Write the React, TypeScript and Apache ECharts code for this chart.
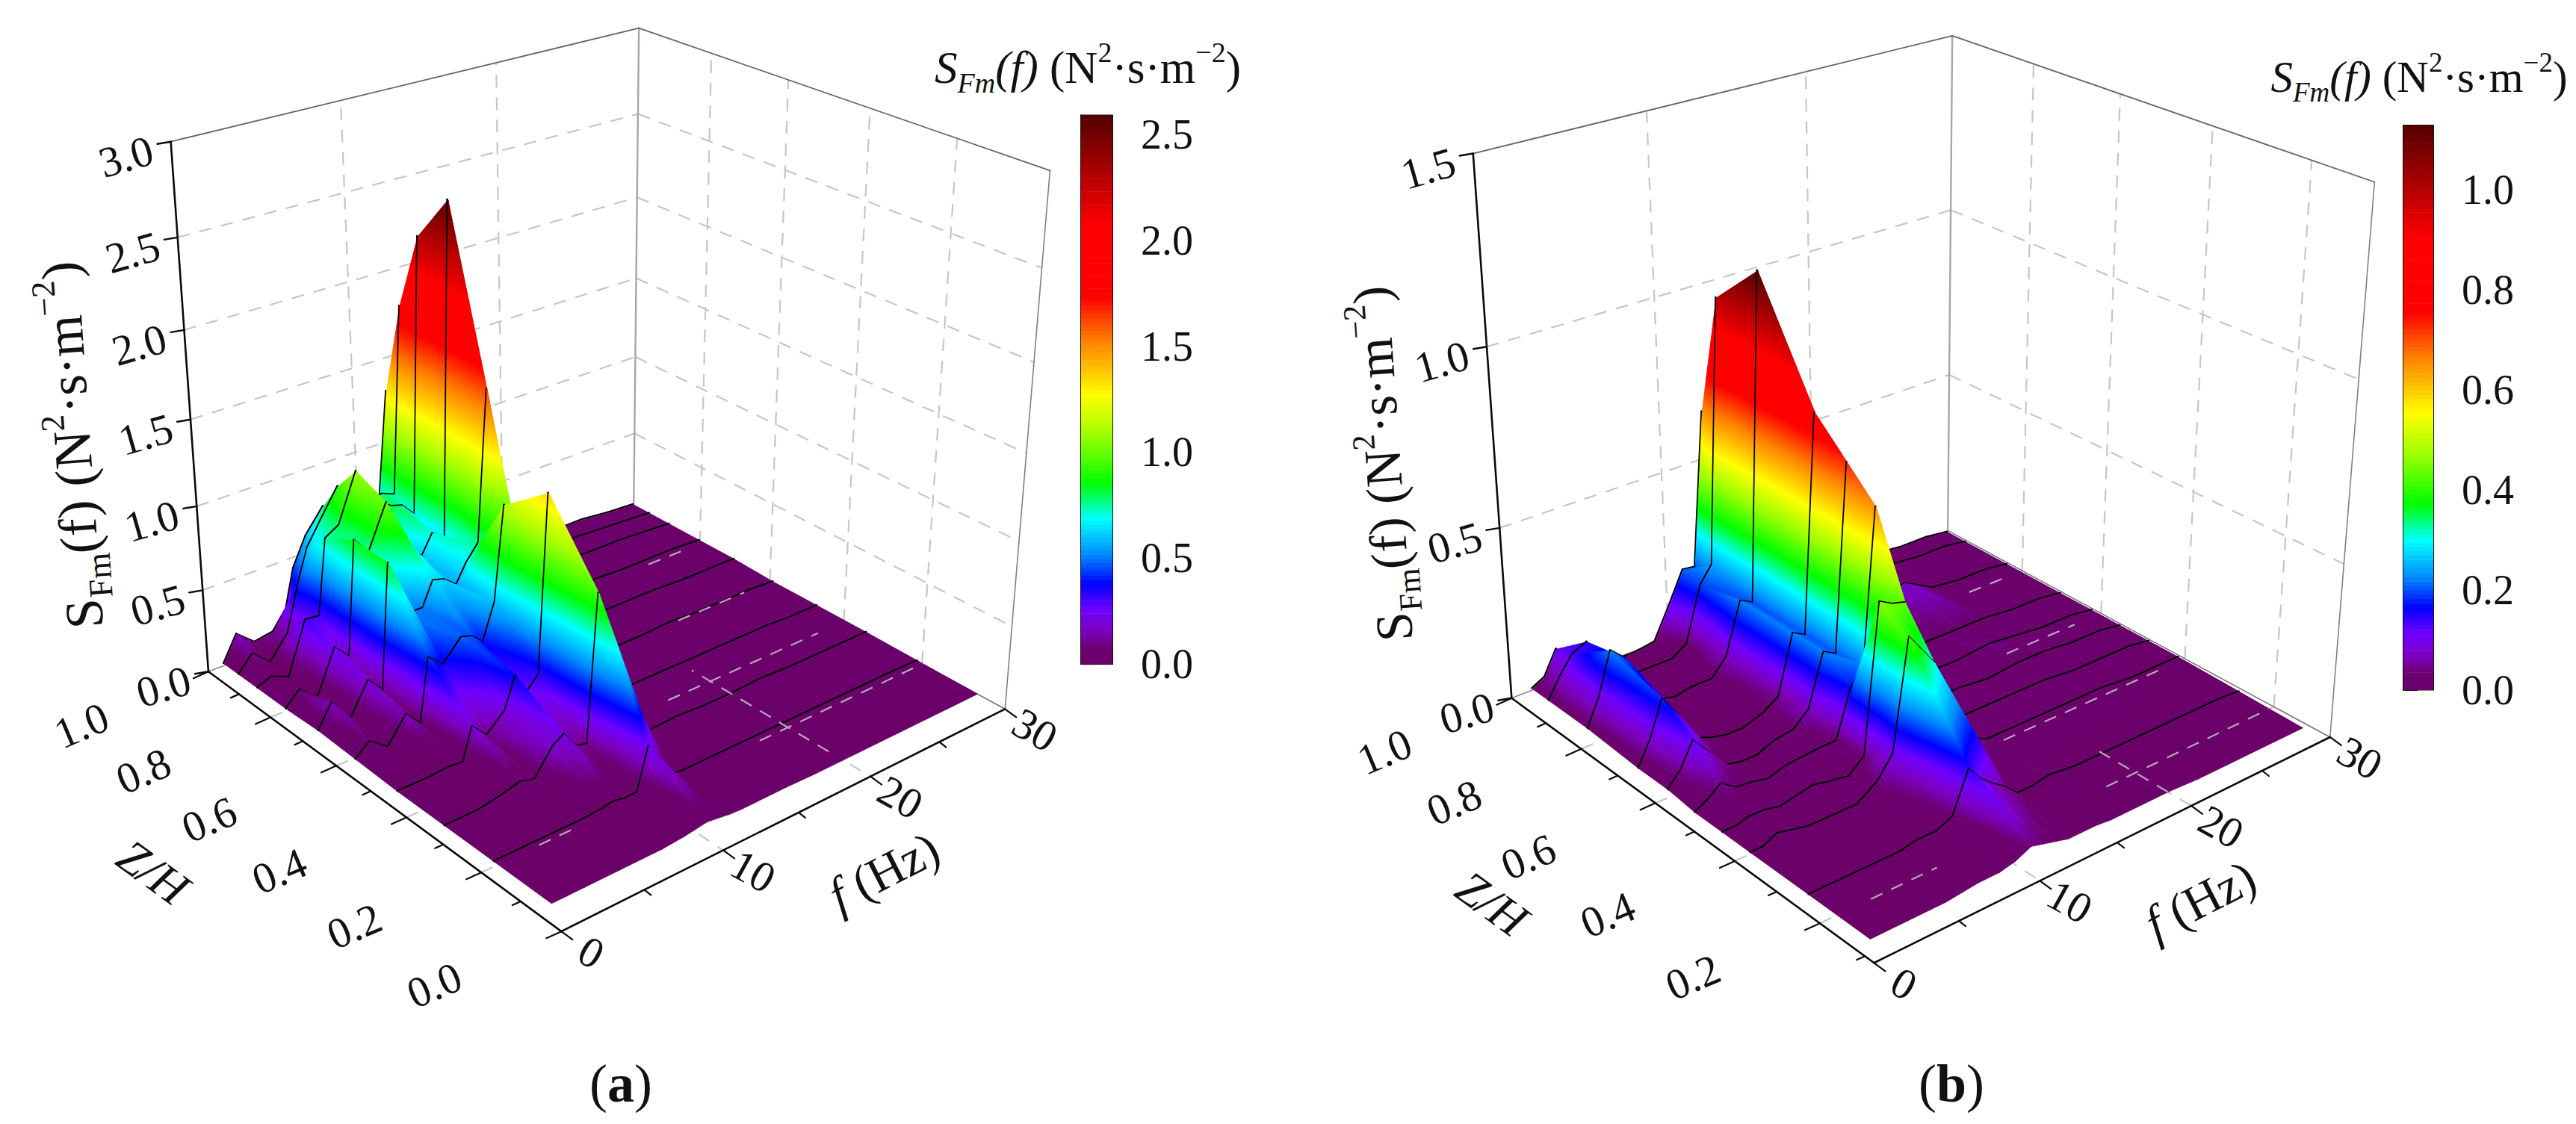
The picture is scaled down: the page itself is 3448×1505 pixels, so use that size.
import React, { useEffect, useRef } from "react";
import * as echarts from "echarts";

const SERIF = "Liberation Serif";

// ---------- Panel (a) data ----------
const fA = [1, 1.9, 3, 4.2, 5.1, 5.7, 6.6, 7.8, 8.5, 9.2, 10, 10.7, 11.5, 12.2, 13, 14, 16, 18, 20, 22, 24, 26, 28, 30];
const zRowsA = [1.0, 0.95, 0.89, 0.8, 0.7, 0.59, 0.47, 0.34, 0.21, 0.065];
const a100 = [.01, .16, .07, .09, .2, .43, .6, .74, .7, .68, .68, .7, .65, 1.3, .5, .12, .04, .04, .05, .06, .05, .05, .03, .02];
const a095 = [.01, .105, .01, .15, .45, .62, .75, .92, .85, .8, .78, .78, .75, 1.85, .7, .12, .05, .05, .05, .05, .05, .04, .03, .02];
const a089 = [.01, .045, 0, .31, .3, .75, .8, 1.08, .95, .85, .8, .78, .7, 2.3, .8, .12, .05, .04, .04, .05, .04, .04, .03, .02];
const a080 = [.01, .09, 0, .26, .17, .85, .75, 1.0, .8, .65, .61, .72, .63, 2.58, .8, .12, .05, .04, .03, .04, .03, .03, .03, .02];
const a070 = [.02, .155, .01, .2, .1, .84, .5, .5, .64, .62, .56, .67, .76, 1.63, .6, .1, .04, .03, .03, .03, .03, .02, .02, .02];
const a059 = [.01, .08, 0, .15, .055, .43, .35, .47, .45, .39, .6, 1.14, .9, .5, .15, .05, .03, .02, .02, .03, .02, .02, .02, .01];
const a047 = [0, 0, 0, .01, 0, .19, .1, .2, .38, .25, .33, 1.35, 1.0, .5, .12, .03, .02, .02, .02, .02, .02, .02, .01, .01];
const a034 = [0, 0, 0, .02, .04, .055, .03, .18, .22, .12, .1, .95, .6, .2, .05, .01, .02, .01, .01, .02, .01, .01, .01, .01];
const a021 = [0, 0, 0, 0, 0, 0, 0, .01, .02, .005, .01, .25, .1, .02, .01, .01, .01, .01, .01, .01, .01, .01, .01, .005];
const a006 = [0, 0, 0, 0, 0, 0, 0, 0, .005, .01, .02, .03, .02, .01, .005, .005, .005, 0, 0, 0, 0, 0, 0, 0];
const rowsA = [a100, a095, a089, a080, a070, a059, a047, a034, a021, a006];

// ---------- Panel (b) data ----------
const fB = [1, 1.8, 2.6, 3.5, 4.5, 5.5, 6.5, 7.5, 8.8, 9.8, 10.8, 11.6, 12.4, 13.2, 14, 15, 16, 18, 20, 22, 24, 26, 28, 29.6];
const zRowsB = [0.985, 0.936, 0.825, 0.687, 0.609, 0.54, 0.471, 0.402, 0.264, 0.126];
const b098 = [.02, .04, .11, .05, .02, .01, .01, .01, .02, .11, .205, .2, .65, .3, .1, .05, .03, .02, .02, .03, .03, .02, .02, .01];
const b093 = [.02, .08, .13, .15, .05, .01, 0, 0, 0, .03, .19, .24, 1.0, .4, .12, .05, .03, .02, .03, .04, .03, .02, .02, .01];
const b081 = [.02, .1, .22, .18, .05, .02, .01, .02, .02, .07, .22, .2, 1.13, .45, .13, .05, .03, .03, .06, .08, .03, .02, .02, .01];
const b066 = [.01, .08, .18, .12, .03, .01, 0, 0, .02, .05, .22, .2, .82, .35, .12, .05, .03, .03, .03, .03, .03, .02, .02, .01];
const b057 = [.01, .05, .12, .07, .01, 0, 0, .02, .03, .07, .22, .2, .73, .3, .1, .05, .03, .03, .03, .04, .03, .02, .02, .01];
const b050 = [0, .02, .05, .02, .015, .005, .02, .025, .03, .03, .17, .22, .65, .25, .08, .04, .03, .03, .02, .03, .03, .02, .02, .01];
const b042 = [0, 0, .01, .01, 0, .01, .02, .01, 0, .04, .46, .44, .43, .18, .06, .04, .03, .03, .03, .03, .02, .02, .02, .01];
const b035 = [0, 0, .02, .01, 0, 0, 0, 0, .04, .1, .41, .36, .31, .12, .05, .04, .02, .02, .02, .02, .02, .01, .01, .01];
const b020 = [0, 0, 0, 0, 0, 0, 0, .01, .01, .03, .145, .1, .07, .045, .01, .01, .02, .01, .01, .01, .01, .01, .01, .005];
const b005 = [0, 0, 0, 0, 0, 0, .005, .01, .01, .02, .04, .03, .02, .01, .01, .01, .005, .005, .005, 0, 0, 0, 0, 0];
const rowsB = [b098, b093, b081, b066, b057, b050, b042, b035, b020, b005];

// ---------- Axes ----------
const fTicks = [0, 5, 10, 15, 20, 25, 30];
const fLabels = [0, 10, 20, 30];
const zTicksA = [0.1, 0.2, 0.3, 0.4, 0.5, 0.6, 0.7, 0.8, 0.9, 1.0, 0];
const zLabelsA = [0, 0.2, 0.4, 0.6, 0.8, 1.0];
const zTicksB = [0.1, 0.2, 0.3, 0.4, 0.5, 0.6, 0.7, 0.8, 0.9, 1.0];
const zLabelsB = [0.2, 0.4, 0.6, 0.8, 1.0];
const sTicksA = [0, 0.5, 1.0, 1.5, 2.0, 2.5, 3.0];
const sTicksB = [0, 0.5, 1.0, 1.5];
const barTicksA = [0, 0.5, 1.0, 1.5, 2.0, 2.5];
const barTicksB = [0, 0.2, 0.4, 0.6, 0.8, 1.0];
const floorZ = [0.2, 0.4, 0.6, 0.8];
const floorF = [10, 20];
// floor grid pieces that show through the flat part of the surface: [f0, f1, z0, z1]
const showThroughA = [[18, 30, .2, .2], [3.5, 6, .2, .2], [17, 28, .4, .4], [23, 28, .6, .6], [26, 28.5, .8, .8], [20, 20, .1, .45]];
const showThroughB = [[18, 29.6, .2, .2], [3, 7, .2, .2], [17, 28, .4, .4], [23, 28, .6, .6], [26, 28.5, .8, .8], [20, 20, .13, .28]];

// Colour ramp: [fraction of scale max, colour]
const ramp: [number, number[]][] = [
  [0, [106, 0, 104]], [0.03, [108, 0, 112]], [0.06, [124, 0, 190]], [0.1, [112, 0, 255]], [0.146, [0, 0, 255]], [0.2, [0, 140, 255]],
  [0.265, [0, 255, 255]], [0.33, [0, 255, 0]], [0.42, [160, 255, 0]], [0.49, [255, 255, 0]], [0.59, [255, 128, 0]],
  [0.67, [255, 0, 0]], [0.8, [255, 0, 0]], [0.9, [170, 0, 0]], [1, [85, 0, 0]],
];
function rampColor(t: number) {
  const x = Math.max(0, Math.min(1, t));
  for (let i = 1; i < ramp.length; i++) {
    if (x <= ramp[i][0]) {
      const [t0, c0] = ramp[i - 1];
      const [t1, c1] = ramp[i];
      const k = (x - t0) / (t1 - t0);
      return `rgb(${c0.map((c, j) => Math.round(c + (c1[j] - c) * k)).join(",")})`;
    }
  }
  return "rgb(85,0,0)";
}

// Least-squares camera matrix from the box's anchor points
function solveCamera(pairs: number[][]) {
  const n = 11;
  const M = Array.from({ length: n }, () => new Array(n + 1).fill(0));
  const add = (row: number[], rhs: number) => {
    for (let i = 0; i < n; i++) {
      for (let j = 0; j < n; j++) M[i][j] += row[i] * row[j];
      M[i][n] += row[i] * rhs;
    }
  };
  for (const [u, v, t, X0, Y0] of pairs) {
    const X = X0 / 1000, Y = Y0 / 1000;
    add([u, v, t, 1, 0, 0, 0, 0, -X * u, -X * v, -X * t], X);
    add([0, 0, 0, 0, u, v, t, 1, -Y * u, -Y * v, -Y * t], Y);
  }
  for (let c = 0; c < n; c++) {
    let p = c;
    for (let r = c + 1; r < n; r++) if (Math.abs(M[r][c]) > Math.abs(M[p][c])) p = r;
    [M[c], M[p]] = [M[p], M[c]];
    for (let r = 0; r < n; r++) {
      if (r === c) continue;
      const k = M[r][c] / M[c][c];
      for (let j = c; j <= n; j++) M[r][j] -= k * M[c][j];
    }
  }
  return M.map((row, i) => row[n] / row[i]);
}

type Panel = ReturnType<typeof makePanel>;
function makePanel(cfg: any) {
  const p = solveCamera(cfg.anchors);
  const project = (f: number, z: number, S: number) => {
    const u = f / 30, v = (z - cfg.zMin) / (1 - cfg.zMin), t = S / cfg.sMax;
    const w = p[8] * u + p[9] * v + p[10] * t + 1;
    return [1000 * (p[0] * u + p[1] * v + p[2] * t + p[3]) / w, 1000 * (p[4] * u + p[5] * v + p[6] * t + p[7]) / w];
  };
  return { ...cfg, project };
}

const panelA = makePanel({
  zMin: 0, sMax: 3, barMax: 2.59, fs: fA, zs: zRowsA, rows: rowsA, sTicks: sTicksA, zTicks: zTicksA, zLabels: zLabelsA, show: showThroughA,
  anchors: [
    [0, 0, 0, 751, 1248], [1, 0, 0, 1345, 948], [1, 1, 0, 849, 681], [0, 1, 0, 279, 898],
    [0, 1, 1, 230, 190], [1, 1, 1, 854, 37], [1, 0, 1, 1406, 229], [0, 1, 1 / 3, 263, 679], [0, 1, 2 / 3, 245.7, 441],
  ],
});
const panelB = makePanel({
  zMin: 0.08, sMax: 1.5, barMax: 1.129, fs: fB, zs: zRowsB, rows: rowsB, sTicks: sTicksB, zTicks: zTicksB, zLabels: zLabelsB, show: showThroughB,
  anchors: [
    [0, 0, 0, 2508, 1289], [1, 0, 0, 3119, 987], [1, 1, 0, 2607, 710], [0, 1, 0, 2024, 935],
    [0, 1, 1, 1972, 205.6], [1, 1, 1, 2613, 48], [1, 0, 1, 3178.5, 244], [0, 1, 1 / 3, 2006.7, 708], [0, 1, 2 / 3, 1990, 463],
  ],
});

const toPx = (api: any, pt: number[]) => api.coord(pt);
const seg = (a: number[], b: number[], stroke: string, lineWidth: number, dash?: number[]) => ({
  type: "line",
  silent: true,
  shape: { x1: a[0], y1: a[1], x2: b[0], y2: b[1] },
  style: { stroke, lineWidth, lineDash: dash, fill: null, lineCap: dash ? "butt" : "round" },
});

function triangle(pts: number[][], vals: number[], barMax: number) {
  const [p, q, r] = pts;
  const [a, b, c] = vals;
  const vmin = Math.min(a, b, c), vmax = Math.max(a, b, c);
  const flat = rampColor((a + b + c) / 3 / barMax);
  const base: any = { type: "polygon", silent: true, shape: { points: pts } };
  const d = (q[0] - p[0]) * (r[1] - p[1]) - (r[0] - p[0]) * (q[1] - p[1]);
  if (vmax - vmin < 0.002 * barMax || Math.abs(d) < 1e-6) {
    return { ...base, style: { fill: flat, stroke: flat, lineWidth: 0.8 } };
  }
  const gx = ((b - a) * (r[1] - p[1]) - (c - a) * (q[1] - p[1])) / d;
  const gy = ((c - a) * (q[0] - p[0]) - (b - a) * (r[0] - p[0])) / d;
  const g2 = gx * gx + gy * gy;
  const low = pts[vals.indexOf(vmin)];
  const span = (vmax - vmin) / g2;
  const stops = [{ offset: 0, color: rampColor(vmin / barMax) }];
  for (const [t] of ramp) {
    const v = t * barMax;
    if (v > vmin && v < vmax) stops.push({ offset: (v - vmin) / (vmax - vmin), color: rampColor(t) });
  }
  stops.push({ offset: 1, color: rampColor(vmax / barMax) });
  const fill = { type: "linear", x: low[0], y: low[1], x2: low[0] + gx * span, y2: low[1] + gy * span, global: true, colorStops: stops };
  return { ...base, style: { fill, stroke: fill, lineWidth: 0.8 } };
}

function surfaceData(P: Panel) {
  const out: number[][] = [];
  for (let j = 0; j < P.zs.length - 1; j++) {
    for (let i = P.fs.length - 2; i >= 0; i--) {
      out.push([
        P.fs[i], P.fs[i + 1], P.zs[j], P.zs[j + 1],
        P.rows[j][i], P.rows[j][i + 1], P.rows[j + 1][i], P.rows[j + 1][i + 1],
        j === 0 ? 1 : 0, j + 1 < P.zs.length - 1 ? 1 : 0,
      ]);
    }
  }
  return out;
}

function surfaceSeries(P: Panel) {
  return {
    type: "custom", coordinateSystem: "cartesian2d", xAxisIndex: 0, yAxisIndex: 0, silent: true, clip: false,
    data: surfaceData(P),
    renderItem: (_: any, api: any) => {
      const v = (k: number) => api.value(k);
      const [f0, f1, zf, zn] = [v(0), v(1), v(2), v(3)];
      const [sDf, sCf, sAn, sBn] = [v(4), v(5), v(6), v(7)];
      const A = toPx(api, P.project(f0, zn, sAn));
      const B = toPx(api, P.project(f1, zn, sBn));
      const C = toPx(api, P.project(f1, zf, sCf));
      const D = toPx(api, P.project(f0, zf, sDf));
      const children: any[] = [];
      const lineOff = (a: number[], b: number[]) =>
        seg([a[0] - 1, a[1] - 1], [b[0] - 1, b[1] - 1], "#000", 2.3);
      if (v(8)) children.push(lineOff(D, C));
      children.push(triangle([D, C, B], [sDf, sCf, sBn], P.barMax));
      children.push(triangle([D, B, A], [sDf, sBn, sAn], P.barMax));
      if (v(9)) children.push(lineOff(A, B));
      return { type: "group", silent: true, children };
    },
  };
}

function wallsSeries(P: Panel) {
  return {
    type: "custom", coordinateSystem: "cartesian2d", xAxisIndex: 0, yAxisIndex: 0, silent: true, clip: false,
    data: [[0, 0]],
    renderItem: (_: any, api: any) => {
      const c = (f: number, z: number, s: number) => toPx(api, P.project(f, z, s));
      const kids: any[] = [];
      const top = P.sMax;
      const dash = [17, 13];
      const grey = "#c6c6c6";
      const box = (a: number[], b: number[], col: string, w: number) => kids.push(seg(a, b, col, w));
      for (const s of P.sTicks.slice(1, -1)) {
        kids.push(seg(c(0, 1, s), c(30, 1, s), grey, 2.2, dash));
        kids.push(seg(c(30, 1, s), c(30, P.zMin, s), grey, 2.2, dash));
      }
      for (const f of floorF) {
        kids.push(seg(c(f, 1, 0), c(f, 1, top), grey, 2.2, dash));
        kids.push(seg(c(f, 1, 0), c(f, P.zMin, 0), grey, 2.2, dash));
      }
      for (const z of floorZ) {
        kids.push(seg(c(30, z, 0), c(30, z, top), grey, 2.2, dash));
        kids.push(seg(c(0, z, 0), c(30, z, 0), grey, 2.2, dash));
      }
      box(c(0, 1, 0), c(30, 1, 0), "#888", 1.6);
      box(c(30, 1, 0), c(30, P.zMin, 0), "#777", 1.6);
      box(c(30, 1, 0), c(30, 1, top), "#a6a6a6", 2.4);
      box(c(30, P.zMin, 0), c(30, P.zMin, top), "#808080", 1.6);
      box(c(0, 1, top), c(30, 1, top), "#666", 1.8);
      box(c(30, 1, top), c(30, P.zMin, top), "#666", 1.8);
      return { type: "group", silent: true, children: kids };
    },
  };
}

function showThroughSeries(P: Panel) {
  return {
    type: "custom", coordinateSystem: "cartesian2d", xAxisIndex: 0, yAxisIndex: 0, silent: true, clip: false,
    data: P.show,
    renderItem: (_: any, api: any) => {
      const a = toPx(api, P.project(api.value(0), api.value(2), 0));
      const b = toPx(api, P.project(api.value(1), api.value(3), 0));
      return seg(a, b, "#b9a9b9", 2.2, [17, 13]);
    },
  };
}

const label = (x: number, y: number, text: string, size: number, rot: number) => ({
  type: "text", silent: true, x, y, rotation: (rot * Math.PI) / 180,
  style: { text, fontFamily: SERIF, fontSize: size, fill: "#111", align: "center", verticalAlign: "middle" },
});

function axesSeries(P: Panel) {
  return {
    type: "custom", coordinateSystem: "cartesian2d", xAxisIndex: 0, yAxisIndex: 0, silent: true, clip: false,
    data: [[0, 0]],
    renderItem: (_: any, api: any) => {
      const c = (f: number, z: number, s: number) => toPx(api, P.project(f, z, s));
      const kids: any[] = [];
      const black = "#0a0a0a";
      kids.push(seg(c(0, 1, 0), c(0, 1, P.sMax), black, 2.6));
      kids.push(seg(c(0, 1, 0), c(0, P.zMin, 0), black, 2.6));
      kids.push(seg(c(0, P.zMin, 0), c(30, P.zMin, 0), black, 2.6));
      for (const s of P.sTicks) {
        const q = c(0, 1, s);
        kids.push(seg(q, [q[0] - 18, q[1] + 3], black, 2.4));
        kids.push(label(q[0] - 60, q[1] + 20, s.toFixed(1), 58, 16));
      }
      for (const z of P.zTicks) {
        const q = c(0, z, 0);
        const major = Math.round(z * 10) % 2 === 0;
        kids.push(seg(q, [q[0] - (major ? 20 : 11), q[1] + (major ? 9 : 5)], black, 2.2));
      }
      for (const z of P.zLabels) {
        const q = c(0, z, 0);
        kids.push(label(q[0] - 170, q[1] + 72, z.toFixed(1), 58, 23));
      }
      for (const f of fTicks) {
        const q = c(f, P.zMin, 0);
        const major = f % 10 === 0;
        kids.push(seg(q, [q[0] + (major ? 15 : 9), q[1] + (major ? 11 : 7)], black, 2.2));
      }
      for (const f of fLabels) {
        const q = c(f, P.zMin, 0);
        kids.push(label(q[0] + 40, q[1] + 28, String(f), 58, -29));
      }
      return { type: "group", silent: true, children: kids };
    },
  };
}

// ---------- Colour bars ----------
const barLevels = Array.from({ length: 130 }, (_, i) => i);
function barSeries(P: Panel, idx: number) {
  return {
    type: "custom", coordinateSystem: "cartesian2d", xAxisIndex: idx, yAxisIndex: idx, silent: true,
    data: barLevels.map((i) => [i, i / 130, (i + 1) / 130]),
    renderItem: (_: any, api: any) => {
      const a = api.coord([0, api.value(1) * P.barMax]);
      const b = api.coord([1, api.value(2) * P.barMax]);
      const fill = rampColor(api.value(1) + 0.5 / 130);
      return {
        type: "rect", silent: true,
        shape: { x: a[0], y: b[1], width: b[0] - a[0], height: a[1] - b[1] + 0.6 },
        style: { fill, stroke: null },
      };
    },
  };
}
const barGrid = (left: number, top: number, width: number, height: number) => ({
  left, top, width, height, show: true, borderColor: "#111", borderWidth: 2, backgroundColor: "transparent", containLabel: false,
});
const barYAxis = (idx: number, max: number, ticks: number[], tickLen: number) => ({
  gridIndex: idx, type: "value", position: "right", min: 0, max, splitLine: { show: false },
  axisLine: { show: true, lineStyle: { color: "#111", width: 2 } },
  axisTick: { show: true, length: tickLen, customValues: ticks, lineStyle: { color: "#111", width: 2.2 } },
  axisLabel: { show: true, customValues: ticks, margin: 38, color: "#111", fontFamily: SERIF, fontSize: 56, formatter: (v: number) => v.toFixed(1) },
});
const barXAxis = (idx: number) => ({ gridIndex: idx, type: "value", min: 0, max: 1, show: false });

// ---------- Titles ----------
const richFor = (F: number, italicAll: boolean) => {
  const sm = Math.round(F * 0.62);
  const st = italicAll ? "italic" : "normal";
  const base = { fontFamily: SERIF, fill: "#111", color: "#111" };
  return {
    i: { ...base, fontSize: F, lineHeight: Math.round(F * 1.3), fontStyle: st },
    n: { ...base, fontSize: F, lineHeight: Math.round(F * 1.3) },
    sub: { ...base, fontSize: sm, lineHeight: sm, fontStyle: st, verticalAlign: "bottom" },
    sup: { ...base, fontSize: sm, lineHeight: sm, verticalAlign: "top" },
  };
};
const TITLE_TEXT = "{i|S}{sub|Fm}{i|(f)}{n| (N}{sup|2}{n|·s·m}{sup|−2}{n|)}";
const richLabel = (x: number, y: number, F: number, italicAll: boolean, rot: number) => ({
  type: "text", silent: true, x, y, rotation: (rot * Math.PI) / 180,
  style: { text: TITLE_TEXT, rich: richFor(F, italicAll), align: "center", verticalAlign: "middle" },
});
const plainLabel = (x: number, y: number, text: string, F: number, rot: number, italic = false) => ({
  type: "text", silent: true, x, y, rotation: (rot * Math.PI) / 180,
  style: { text, fontFamily: SERIF, fontSize: F, fontStyle: italic ? "italic" : "normal", fill: "#111", align: "center", verticalAlign: "middle" },
});
const caption = (x: number, y: number, letter: string) => ({
  type: "text", silent: true, x, y,
  style: {
    text: `{n|(}{b|${letter}}{n|)}`, align: "center", verticalAlign: "middle",
    rich: {
      n: { fontFamily: SERIF, fontSize: 72, fill: "#111", color: "#111" },
      b: { fontFamily: SERIF, fontSize: 72, fontWeight: "bold", fill: "#111", color: "#111" },
    },
  },
});
const fHzLabel = (x: number, y: number) => ({
  type: "text", silent: true, x, y, rotation: (27 * Math.PI) / 180,
  style: {
    text: "{i|f}{n| (Hz)}", align: "center", verticalAlign: "middle",
    rich: {
      i: { fontFamily: SERIF, fontSize: 66, fontStyle: "italic", fill: "#111", color: "#111" },
      n: { fontFamily: SERIF, fontSize: 66, fill: "#111", color: "#111" },
    },
  },
});

export default function App() {
  const ref = useRef<HTMLDivElement>(null);
  useEffect(() => {
    const chart = echarts.init(ref.current!, null, { renderer: "svg" });
    chart.setOption({
      animation: false,
      backgroundColor: "#fff",
      grid: [
        { left: 0, top: 0, width: 3448, height: 1505 },
        barGrid(1447, 154.5, 42, 734.5),
        barGrid(3217, 168, 40, 755.5),
      ],
      xAxis: [{ gridIndex: 0, type: "value", min: 0, max: 3448, show: false }, barXAxis(1), barXAxis(2)],
      yAxis: [
        { gridIndex: 0, type: "value", min: 0, max: 1505, inverse: true, show: false },
        barYAxis(1, panelA.barMax, barTicksA, 20),
        barYAxis(2, panelB.barMax, barTicksB, 19),
      ],
      series: [
        wallsSeries(panelA), surfaceSeries(panelA), showThroughSeries(panelA), axesSeries(panelA),
        wallsSeries(panelB), surfaceSeries(panelB), showThroughSeries(panelB), axesSeries(panelB),
        barSeries(panelA, 1), barSeries(panelB, 2),
      ],
      graphic: [
        richLabel(1456, 90, 61, true, 0),
        richLabel(3238, 103, 59, true, 0),
        richLabel(97, 596, 72, false, 94),
        richLabel(1851, 621, 70, false, 94),
        plainLabel(205, 1168, "Z/H", 64, -36, true),
        plainLabel(1997, 1210, "Z/H", 64, -36, true),
        fHzLabel(1183, 1167),
        fHzLabel(2945, 1205),
        caption(831, 1451, "a"),
        caption(2612, 1451, "b"),
      ],
    });
    return () => chart.dispose();
  }, []);
  return <div ref={ref} style={{ position: "fixed", left: 0, top: 0, width: 3448, height: 1505, background: "#fff" }} />;
}
